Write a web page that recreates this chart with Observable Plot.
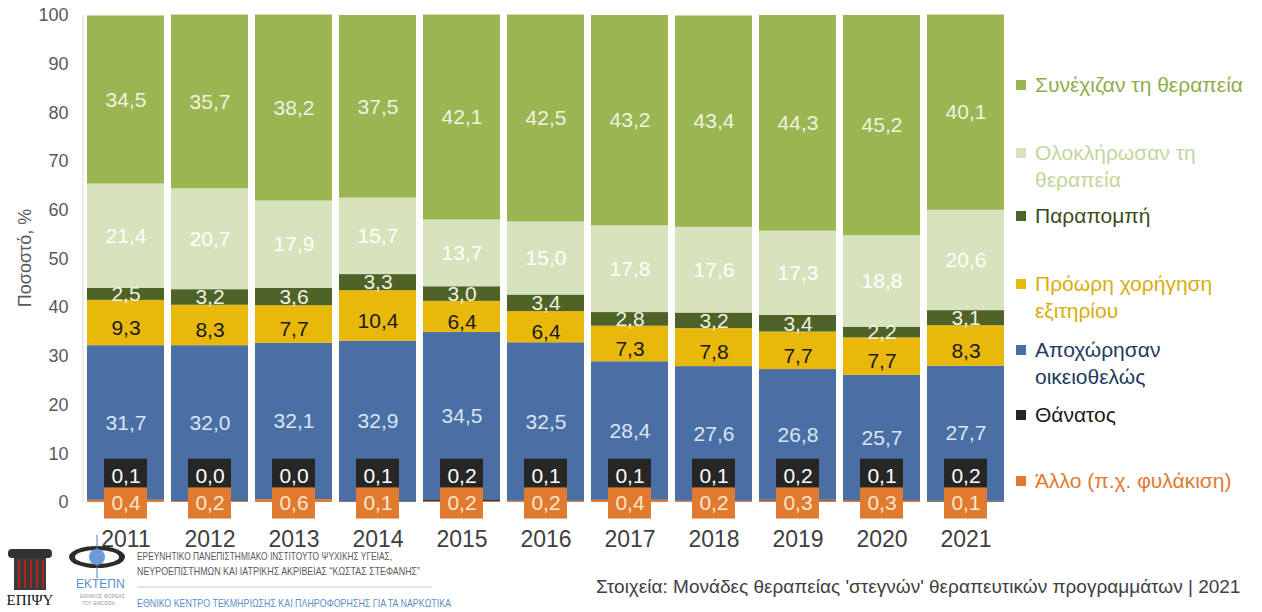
<!DOCTYPE html>
<html>
<head>
<meta charset="utf-8">
<script src="https://cdn.jsdelivr.net/npm/d3@7"></script>
<script src="https://cdn.jsdelivr.net/npm/@observablehq/plot@0.6"></script>
<style>
  body { margin: 0; background: #fff; font-family: "Liberation Sans", Arial, sans-serif; }
  #wrap { position: relative; width: 1262px; height: 612px; overflow: hidden; background: #fff; }
  #chart { position: absolute; left: 0; top: 0; }
  #ylabel { position: absolute; left: 25px; top: 258px; transform: translate(-50%, -50%) rotate(-90deg); font-size: 18px; color: #595959; white-space: nowrap; }
  #legend { position: absolute; left: 1016px; top: 0; width: 246px; height: 520px; }
  .li { position: absolute; left: 0; font-size: 21px; line-height: 27px; white-space: nowrap; }
  .li .sw { position: absolute; left: 0; top: 9px; width: 10px; height: 10px; }
  .li .tx { position: absolute; left: 19px; top: 0; }
  #caption { position: absolute; left: 596px; top: 576px; font-size: 19px; color: #404040; white-space: nowrap; }
  #footer { position: absolute; left: 0; top: 520px; }
</style>
</head>
<body>
<div id="wrap">
  <div id="chart"></div>
  <div id="ylabel">Ποσοστό, %</div>
  <div id="legend"></div>
  <svg id="footer" width="600" height="92"></svg>
  <div id="caption">Στοιχεία: Μονάδες θεραπείας 'στεγνών' θεραπευτικών προγραμμάτων | 2021</div>
</div>
<script>
// ---- data ----
const years = ["2011","2012","2013","2014","2015","2016","2017","2018","2019","2020","2021"];
const continued  = [34.5,35.7,38.2,37.5,42.1,42.5,43.2,43.4,44.3,45.2,40.1];
const completed  = [21.4,20.7,17.9,15.7,13.7,15.0,17.8,17.6,17.3,18.8,20.6];
const referral   = [2.5,3.2,3.6,3.3,3.0,3.4,2.8,3.2,3.4,2.2,3.1];
const earlyDisch = [9.3,8.3,7.7,10.4,6.4,6.4,7.3,7.8,7.7,7.7,8.3];
const leftVol    = [31.7,32.0,32.1,32.9,34.5,32.5,28.4,27.6,26.8,25.7,27.7];
const death      = [0.1,0.0,0.0,0.1,0.2,0.1,0.1,0.1,0.2,0.1,0.2];
const other      = [0.4,0.2,0.6,0.1,0.2,0.2,0.4,0.2,0.3,0.3,0.1];
const yTicks = [0,10,20,30,40,50,60,70,80,90,100];

// series, bottom -> top
const series = [
  {key:"other",     name:"Άλλο (π.χ. φυλάκιση)",        lines:["Άλλο (π.χ. φυλάκιση)"],        values: other,      color:"#e07a2f", label:"#fde6d2", legendText:"#e07a2f", legendY:481},
  {key:"death",     name:"Θάνατος",                      lines:["Θάνατος"],                     values: death,      color:"#262626", label:"#ffffff", legendText:"#1a1a1a", legendY:415},
  {key:"left",      name:"Αποχώρησαν οικειοθελώς",       lines:["Αποχώρησαν","οικειοθελώς"],    values: leftVol,    color:"#4a6fa5", label:"#dbe5f1", legendText:"#1f3a60", legendY:350},
  {key:"early",     name:"Πρόωρη χορήγηση εξιτηρίου",    lines:["Πρόωρη χορήγηση","εξιτηρίου"], values: earlyDisch, color:"#e8b90b", label:"#1a1a1a", legendText:"#d9ad0c", legendY:284},
  {key:"referral",  name:"Παραπομπή",                    lines:["Παραπομπή"],                   values: referral,   color:"#4f6228", label:"#eef2e4", legendText:"#3b4a1e", legendY:216},
  {key:"completed", name:"Ολοκλήρωσαν τη θεραπεία",      lines:["Ολοκλήρωσαν τη","θεραπεία"],   values: completed,  color:"#d6e3bc", label:"#ffffff", legendText:"#c3d69b", legendY:153},
  {key:"continued", name:"Συνέχιζαν τη θεραπεία",        lines:["Συνέχιζαν τη θεραπεία"],       values: continued,  color:"#9ab552", label:"#eef4e0", legendText:"#8fad4b", legendY:85}
];

// build stacked table
const rows = [];
years.forEach((yr, i) => {
  let acc = 0;
  series.forEach(s => {
    const v = s.values[i];
    rows.push({year: yr, key: s.key, series: s.name, value: v, y1: acc, y2: acc + v, mid: acc + v / 2});
    acc += v;
  });
});
const fmt = v => v.toFixed(1).replace(".", ",");
const byKey = k => rows.filter(r => r.key === k);
const sMap = Object.fromEntries(series.map(s => [s.key, s]));

// label box extents (value units) for the tiny categories
const deathBox = [1.9, 8.9], otherBox = [-3.4, 3.0];

const bigLabels = ["left","early","referral","completed","continued"].map(k =>
  Plot.text(byKey(k), {
    x: "year", y: "mid", text: d => fmt(d.value),
    fill: sMap[k].label, fontSize: 21, dy: k === "early" ? 5 : 0
  })
);

const leftLine = (index, scales, values, dims) => {
  const g = d3.create("svg:line")
    .attr("x1", dims.marginLeft + 3).attr("x2", dims.marginLeft + 3)
    .attr("y1", scales.y(0)).attr("y2", scales.y(100))
    .attr("stroke", "#d9d9d9").attr("stroke-width", 1);
  return g.node();
};

const plot = Plot.plot({
  width: 1262,
  height: 562,
  marginTop: 15,
  marginBottom: 60,
  marginLeft: 80,
  marginRight: 251,
  style: {fontFamily: '"Liberation Sans", Arial, sans-serif', background: "transparent"},
  x: {type: "band", domain: years, padding: 0.083, label: null},
  y: {domain: [0, 100], label: null},
  color: {domain: series.map(s => s.name), range: series.map(s => s.color)},
  marks: [
    leftLine,
    Plot.barY(rows, {x: "year", y1: "y1", y2: "y2", fill: "series"}),
    ...bigLabels,
    Plot.barY(byKey("death"), {x: "year", y1: deathBox[0], y2: deathBox[1], fill: sMap.death.color, insetLeft: 17, insetRight: 17}),
    Plot.text(byKey("death"), {x: "year", y: (deathBox[0] + deathBox[1]) / 2, text: d => fmt(d.value), fill: "#ffffff", fontSize: 21}),
    Plot.barY(byKey("other"), {x: "year", y1: otherBox[0], y2: otherBox[1], fill: sMap.other.color, insetLeft: 17, insetRight: 17}),
    Plot.text(byKey("other"), {x: "year", y: (otherBox[0] + otherBox[1]) / 2, text: d => fmt(d.value), fill: sMap.other.label, fontSize: 21}),
    Plot.axisY({ticks: yTicks, tickSize: 0, tickPadding: 12, fontSize: 18, fill: "#595959", label: null}),
    Plot.axisX({tickSize: 0, tickPadding: 28, fontSize: 23, fill: "#404040", label: null})
  ]
});
document.getElementById("chart").appendChild(plot);

// legend
const legend = document.getElementById("legend");
series.forEach(s => {
  const el = document.createElement("div");
  el.className = "li";
  el.style.top = (s.legendY - 14) + "px";
  el.innerHTML = `<div class="sw" style="background:${s.color}"></div><div class="tx" style="color:${s.legendText}">${s.lines.join("<br>")}</div>`;
  legend.appendChild(el);
});

// footer (logos approximated + institution texts)
const f = d3.select("#footer");
// ΕΠΙΨΥ column logo
const col = f.append("g");
col.append("rect").attr("x", 8).attr("y", 29).attr("width", 44).attr("height", 9).attr("rx", 4).attr("fill", "#333");
col.append("rect").attr("x", 14).attr("y", 38).attr("width", 32).attr("height", 32).attr("fill", "#3a3a3a");
[18, 24, 30, 36, 42].forEach(x => col.append("rect").attr("x", x).attr("y", 40).attr("width", 2).attr("height", 28).attr("fill", "#b22222"));
col.append("text").attr("x", 30).attr("y", 85).attr("text-anchor", "middle").attr("font-family", "'Liberation Serif', serif").attr("font-size", 15).attr("fill", "#111").text("ΕΠΙΨΥ");
// ΕΚΤΕΠΝ logo
const ek = f.append("g");
ek.append("ellipse").attr("cx", 97).attr("cy", 37).attr("rx", 28).attr("ry", 11).attr("fill", "#2b2b2b");
ek.append("ellipse").attr("cx", 97).attr("cy", 37).attr("rx", 22).attr("ry", 7).attr("fill", "#ffffff");
ek.append("line").attr("x1", 97).attr("x2", 97).attr("y1", 15).attr("y2", 58).attr("stroke", "#5a7fb8").attr("stroke-width", 1);
ek.append("circle").attr("cx", 97).attr("cy", 37).attr("r", 8).attr("fill", "#6b9bd6");
ek.append("text").attr("x", 76).attr("y", 68).attr("font-size", 12).attr("fill", "#5b8fc9").text("ΕΚΤΕΠΝ");
ek.append("text").attr("x", 80).attr("y", 78).attr("font-size", 5).attr("fill", "#999").text("ΕΘΝΙΚΟΣ ΦΟΡΕΑΣ");
ek.append("text").attr("x", 82).attr("y", 85).attr("font-size", 5).attr("fill", "#999").text("ΤΟΥ EMCDDA");
// texts
f.append("text").attr("x", 137).attr("y", 40).attr("font-size", 11.5).attr("fill", "#5a5a5a")
  .attr("textLength", 255).attr("lengthAdjust", "spacingAndGlyphs").text("ΕΡΕΥΝΗΤΙΚΟ ΠΑΝΕΠΙΣΤΗΜΙΑΚΟ ΙΝΣΤΙΤΟΥΤΟ ΨΥΧΙΚΗΣ ΥΓΕΙΑΣ,");
f.append("text").attr("x", 137).attr("y", 55).attr("font-size", 11.5).attr("fill", "#5a5a5a")
  .attr("textLength", 283).attr("lengthAdjust", "spacingAndGlyphs").text("ΝΕΥΡΟΕΠΙΣΤΗΜΩΝ ΚΑΙ ΙΑΤΡΙΚΗΣ ΑΚΡΙΒΕΙΑΣ “ΚΩΣΤΑΣ ΣΤΕΦΑΝΗΣ”");
f.append("line").attr("x1", 137).attr("x2", 432).attr("y1", 67).attr("y2", 67).attr("stroke", "#c8c8c8").attr("stroke-width", 1);
f.append("text").attr("x", 137).attr("y", 87).attr("font-size", 11.5).attr("fill", "#5b8fc9")
  .attr("textLength", 314).attr("lengthAdjust", "spacingAndGlyphs").text("ΕΘΝΙΚΟ ΚΕΝΤΡΟ ΤΕΚΜΗΡΙΩΣΗΣ ΚΑΙ ΠΛΗΡΟΦΟΡΗΣΗΣ ΓΙΑ ΤΑ ΝΑΡΚΩΤΙΚΑ");
</script>
</body>
</html>
